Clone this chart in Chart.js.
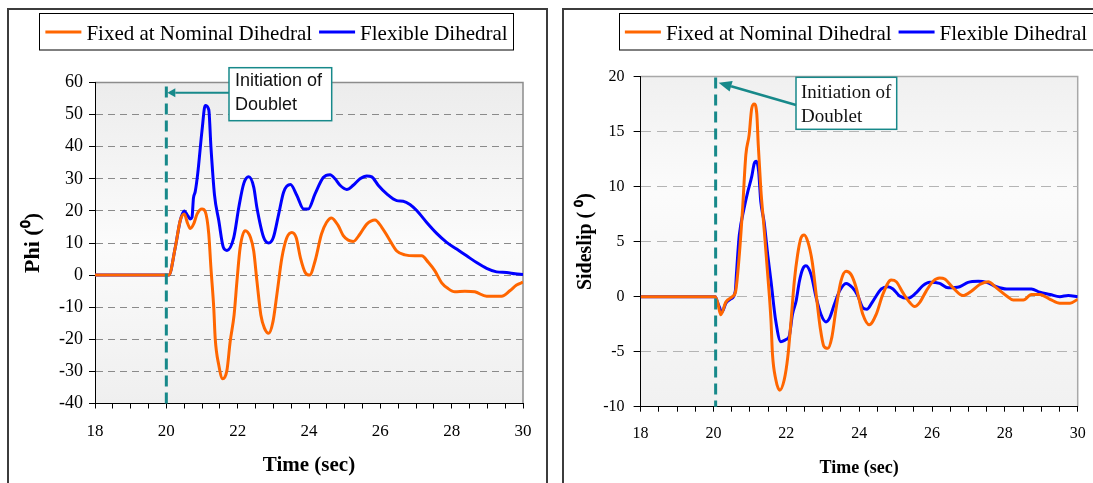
<!DOCTYPE html>
<html>
<head>
<meta charset="utf-8">
<script src="https://cdn.jsdelivr.net/npm/chart.js@4.4.1/dist/chart.umd.min.js"></script>
<style>
html,body{margin:0;padding:0;background:#fff;overflow:hidden;width:1093px;height:483px;}
.frame{position:absolute;box-sizing:border-box;border:2px solid #3c3c3c;}
canvas{position:absolute;top:0;}
</style>
</head>
<body>
<div class="frame" style="left:7px;top:8px;width:541px;height:520px"></div>
<div class="frame" style="left:562px;top:8px;width:600px;height:520px"></div>
<canvas id="phiChart" width="555" height="483" style="left:0"></canvas>
<canvas id="slipChart" width="538" height="483" style="left:555px"></canvas>
<script>
// bank angle response (deg) vs time (s)
const phiFixedT = [18, 20.07, 20.25, 20.39, 20.5, 20.6, 20.67, 20.77, 20.86, 21.0, 21.09, 21.19, 21.25, 21.33, 21.37, 21.47, 21.58, 21.7, 21.79, 21.9, 21.98, 22.07, 22.21, 22.36, 22.45, 22.54, 22.65, 22.75, 22.87, 22.99, 23.1, 23.24, 23.38, 23.52, 23.64, 23.76, 23.9, 24.02, 24.17, 24.35, 24.49, 24.63, 24.82, 24.96, 25.1, 25.24, 25.43, 25.62, 25.85, 26.04, 26.22, 26.46, 26.69, 26.97, 27.16, 27.35, 27.53, 27.72, 27.9, 28.09, 28.37, 28.65, 28.98, 29.4, 29.64, 29.82, 30];
const phiFixedV = [0, 0, 8.6, 17, 19, 16, 14.5, 16, 19, 20.6, 19.8, 12.8, 2.3, -10.3, -19.7, -28, -32.3, -29.6, -20.7, -12.4, -1.9, 8.6, 13.8, 11.7, 7.5, -1.9, -12.4, -16.5, -18.1, -14.5, -6, 5.4, 11.7, 13.3, 11.7, 5.4, 0.7, 0, 4.4, 12.8, 16.4, 17.8, 15.4, 12.3, 10.9, 10.5, 12.8, 15.9, 17.2, 14.9, 11.7, 7.5, 6.3, 6, 6, 3.9, 1.3, -2.4, -4.2, -5.2, -5, -5.2, -6.6, -6.6, -4.8, -3.1, -2.2];
const phiFlexT = [18, 20.07, 20.25, 20.39, 20.5, 20.6, 20.67, 20.72, 20.76, 20.81, 20.88, 21.0, 21.09, 21.19, 21.25, 21.35, 21.47, 21.6, 21.7, 21.89, 22.03, 22.17, 22.31, 22.45, 22.54, 22.73, 22.87, 23.0, 23.15, 23.29, 23.48, 23.66, 23.85, 23.98, 24.17, 24.4, 24.59, 24.73, 24.87, 25.06, 25.24, 25.43, 25.62, 25.76, 25.94, 26.18, 26.46, 26.64, 26.83, 27.02, 27.3, 27.58, 27.86, 28.14, 28.42, 28.7, 28.98, 29.26, 29.54, 29.78, 30];
const phiFlexV = [0, 0, 8.6, 17, 20, 18.5, 17.5, 18, 24, 26, 31.6, 45, 52.8, 51.5, 40, 25, 17, 8.6, 7.7, 11.7, 21, 28.5, 30.6, 27.4, 21, 11.7, 10, 11.7, 19, 25.9, 28.2, 24.8, 20.6, 20.6, 25.3, 30.4, 31.3, 30, 28, 26.7, 28, 30, 30.9, 30.6, 28, 25.3, 23.2, 23, 22, 20.1, 16.4, 13, 10.2, 8.1, 6, 3.9, 2.1, 1, 0.8, 0.4, 0.2];

// sideslip response (deg) vs time (s)
const slipFixedT = [18, 20.05, 20.12, 20.2, 20.34, 20.52, 20.61, 20.71, 20.8, 20.89, 20.98, 21.05, 21.12, 21.19, 21.23, 21.3, 21.39, 21.49, 21.58, 21.62, 21.71, 21.82, 21.94, 22.04, 22.13, 22.22, 22.31, 22.4, 22.49, 22.59, 22.71, 22.82, 22.93, 23.03, 23.14, 23.25, 23.37, 23.5, 23.64, 23.78, 23.92, 24.1, 24.28, 24.47, 24.65, 24.88, 25.02, 25.2, 25.39, 25.52, 25.66, 25.84, 26.03, 26.21, 26.35, 26.58, 26.85, 27.08, 27.31, 27.54, 27.77, 28.05, 28.23, 28.51, 28.73, 28.96, 29.24, 29.51, 29.79, 30];
const slipFixedV = [0, 0, -0.6, -1.65, -0.5, 0, 0.5, 3.8, 8, 12.9, 14.7, 17.1, 17.5, 16.6, 13.8, 9.8, 6.2, 2, -2.2, -5.2, -7.5, -8.5, -7.6, -5.5, -2.2, 1.4, 3.8, 5.3, 5.6, 5, 3.2, 0.2, -2.8, -4.5, -4.7, -3.7, -1, 1.4, 2.3, 2, 0.8, -1.6, -2.56, -1.6, 0.2, 1.5, 1.35, 0.36, -0.54, -0.9, -0.54, 0.5, 1.4, 1.7, 1.6, 0.8, 0.1, 0.5, 1.1, 1.35, 0.8, 0.06, -0.3, -0.3, 0.2, 0.2, -0.24, -0.6, -0.6, -0.24];
const slipFlexT = [18, 20.05, 20.11, 20.17, 20.22, 20.27, 20.34, 20.48, 20.6, 20.63, 20.66, 20.71, 20.84, 20.94, 21.05, 21.12, 21.18, 21.24, 21.3, 21.39, 21.49, 21.58, 21.71, 21.85, 21.99, 22.08, 22.17, 22.27, 22.36, 22.45, 22.54, 22.68, 22.82, 22.95, 23.09, 23.18, 23.32, 23.46, 23.64, 23.82, 23.96, 24.1, 24.21, 24.38, 24.61, 24.79, 24.93, 25.11, 25.34, 25.57, 25.75, 25.94, 26.21, 26.44, 26.76, 26.99, 27.27, 27.5, 27.77, 28.05, 28.41, 28.73, 28.96, 29.24, 29.51, 29.74, 30];
const slipFlexV = [0, 0, -0.5, -1.0, -1.45, -1.2, -0.6, -0.2, 0.5, 2, 3.5, 5.6, 8, 9.5, 10.9, 12.1, 12.3, 11.4, 8.6, 6.8, 3.8, 1.4, -2.2, -4.1, -3.9, -3.6, -1.6, -0.4, 1.4, 2.5, 2.8, 2.0, -0.1, -1.6, -2.3, -2.0, -0.7, 0.5, 1.2, 0.8, 0.1, -1, -1.15, -0.4, 0.7, 0.9, 0.7, 0.06, -0.15, 0.36, 1, 1.3, 1.2, 0.8, 0.9, 1.3, 1.4, 1.3, 0.9, 0.7, 0.7, 0.7, 0.4, 0.2, 0, 0.1, 0];

const seriesNames = ['Fixed at Nominal Dihedral', 'Flexible Dihedral'];
const seriesColors = ['#ff6600', '#0000ff'];
const timeTicks = {min: 18, max: 30, step: 0.5, labelEvery: 2};
const phiTicks = {min: -40, max: 60, step: 10};
const slipTicks = {min: -10, max: 20, step: 5};
const doubletLabel = ['Initiation of', 'Doublet'];

const SERIF = "'Liberation Serif', 'Times New Roman', serif";
const SANS = "'Liberation Sans', Arial, sans-serif";

const toPoints = (t, v) => t.map((x, i) => ({x, y: v[i]}));

// gradient plot area with light grey top/right edges
const plotBg = {
  id: 'plotBg',
  beforeDraw(chart, args, o) {
    const {ctx, chartArea: {left, top, right, bottom}} = chart;
    const g = ctx.createLinearGradient(0, top, 0, bottom);
    o.stops.forEach(([p, c]) => g.addColorStop(p, c));
    ctx.save();
    ctx.fillStyle = g;
    ctx.fillRect(left, top, right - left, bottom - top);
    ctx.strokeStyle = o.edge;
    ctx.lineWidth = 1.5;
    ctx.beginPath();
    ctx.moveTo(left, top); ctx.lineTo(right, top); ctx.lineTo(right, bottom);
    ctx.stroke();
    ctx.restore();
  }
};

// dashed marker at the doublet start, with a boxed callout and arrow
const doubletMark = {
  id: 'doubletMark',
  afterDatasetsDraw(chart, args, o) {
    const {ctx, chartArea: a, scales: {x}} = chart;
    const px = x.getPixelForValue(o.time);
    ctx.save();
    ctx.strokeStyle = o.color;
    ctx.lineWidth = 3;
    ctx.setLineDash([11, 6]);
    ctx.beginPath(); ctx.moveTo(px, a.top + o.lineTop); ctx.lineTo(px, a.bottom); ctx.stroke();
    ctx.setLineDash([]);

    const bx = a.left + o.box.dx, by = a.top + o.box.dy;
    ctx.fillStyle = '#fff';
    ctx.fillRect(bx, by, o.box.w, o.box.h);
    ctx.lineWidth = 1.5;
    ctx.strokeRect(bx, by, o.box.w, o.box.h);
    ctx.fillStyle = '#111';
    ctx.font = o.font;
    ctx.textBaseline = 'alphabetic';
    o.lines.forEach((s, i) => ctx.fillText(s, bx + o.textDx, by + o.baselines[i]));

    const sx = bx, sy = a.top + o.arrow.fromDy;
    const tx = px + o.arrow.tipDx, ty = a.top + o.arrow.toDy;
    const ang = Math.atan2(ty - sy, tx - sx);
    const L = o.arrow.len, W = o.arrow.half;
    const baseX = tx - L * Math.cos(ang), baseY = ty - L * Math.sin(ang);
    ctx.lineWidth = o.arrow.width;
    ctx.beginPath(); ctx.moveTo(sx, sy); ctx.lineTo(baseX, baseY); ctx.stroke();
    ctx.fillStyle = o.color;
    ctx.beginPath();
    ctx.moveTo(tx, ty);
    ctx.lineTo(baseX - W * Math.sin(ang), baseY + W * Math.cos(ang));
    ctx.lineTo(baseX + W * Math.sin(ang), baseY - W * Math.cos(ang));
    ctx.closePath(); ctx.fill();
    ctx.restore();
  }
};

// one-row legend in a thin black box
const boxLegend = {
  id: 'boxLegend',
  afterDraw(chart, args, o) {
    const ctx = chart.ctx;
    ctx.save();
    ctx.font = o.font;
    const items = chart.data.datasets.map(d => ({label: d.label, color: d.borderColor, w: ctx.measureText(d.label).width}));
    const pad = 6, line = 36, gap = 5, sep = 7;
    const width = pad * 2 + items.reduce((s, it) => s + line + gap + it.w, 0) + sep * (items.length - 1);
    let x = o.centerX - width / 2;
    ctx.fillStyle = '#fff';
    ctx.fillRect(x, o.top, width, o.height);
    ctx.strokeStyle = '#000';
    ctx.lineWidth = 1;
    ctx.strokeRect(Math.round(x) + 0.5, o.top + 0.5, Math.round(width), o.height);
    x += pad;
    items.forEach(it => {
      ctx.strokeStyle = it.color;
      ctx.lineWidth = 3;
      ctx.beginPath(); ctx.moveTo(x, o.top + o.lineDy); ctx.lineTo(x + line, o.top + o.lineDy); ctx.stroke();
      x += line + gap;
      ctx.fillStyle = '#000';
      ctx.fillText(it.label, x, o.top + o.textDy);
      x += it.w + sep;
    });
    ctx.restore();
  }
};

function gridColor(lim, color) {
  return c => (c.tick && (c.tick.value === lim.min || c.tick.value === lim.max)) ? 'rgba(0,0,0,0)' : color;
}

function makeChart(id, s) {
  return new Chart(document.getElementById(id), {
    type: 'line',
    data: {
      datasets: [
        {label: seriesNames[0], data: toPoints(s.fixedT, s.fixedV), borderColor: seriesColors[0]},
        {label: seriesNames[1], data: toPoints(s.flexT, s.flexV), borderColor: seriesColors[1]}
      ].map(d => Object.assign(d, {borderWidth: 3, pointRadius: 0, cubicInterpolationMode: 'monotone', fill: false}))
    },
    options: {
      responsive: false,
      animation: false,
      devicePixelRatio: 1,
      layout: {padding: {top: s.area.top, right: s.area.right, left: 0, bottom: 0}},
      scales: {
        x: {
          type: 'linear', min: timeTicks.min, max: timeTicks.max,
          afterFit: sc => { sc.height = s.area.xh; sc.paddingLeft = 0; sc.paddingRight = 0; },
          ticks: {
            stepSize: timeTicks.step, autoSkip: false, maxRotation: 0, color: '#000',
            padding: s.xTickPad, font: {family: SERIF, size: s.xTickSize},
            callback: v => (Number.isInteger(v) && v % timeTicks.labelEvery === 0) ? String(v) : ''
          },
          grid: {drawOnChartArea: false, drawTicks: true, tickLength: 5, tickColor: '#000'},
          border: {color: '#000', width: 1},
          title: {display: true, text: 'Time (sec)', color: '#000', padding: {top: 0, bottom: s.xTitlePad},
            font: {family: SERIF, size: s.xTitleSize, weight: 'bold'}}
        },
        y: {
          min: s.yLim.min, max: s.yLim.max,
          afterFit: sc => { sc.width = s.area.yw; sc.paddingTop = 0; sc.paddingBottom = 0; },
          ticks: {stepSize: s.yLim.step, color: '#000', padding: s.yTickPad, font: {family: SERIF, size: s.yTickSize}},
          grid: {color: gridColor(s.yLim, s.gridColor), tickColor: '#000', tickLength: s.yTickLen, lineWidth: 1},
          border: {color: '#000', width: 1, dash: s.gridDash},
          title: {display: true, text: s.yTitle, color: '#000', padding: {top: s.yTitlePad, bottom: 0},
            font: {family: SERIF, size: s.yTitleSize, weight: 'bold'}}
        }
      },
      plugins: {
        legend: {display: false},
        tooltip: {enabled: false},
        plotBg: {stops: s.bgStops, edge: s.edge},
        doubletMark: Object.assign({color: '#17898a', lines: doubletLabel}, s.mark),
        boxLegend: {font: '21px ' + SERIF, centerX: s.legendX, top: 13, height: 36.5, lineDy: 19, textDy: 27}
      }
    },
    plugins: [plotBg, doubletMark, boxLegend]
  });
}

makeChart('phiChart', {
  fixedT: phiFixedT, fixedV: phiFixedV, flexT: phiFlexT, flexV: phiFlexV,
  yLim: phiTicks, yTitle: 'Phi (\u2070)',
  area: {top: 82.5, right: 32, xh: 79.5, yw: 95},
  xTickPad: 13, xTickSize: 17, xTitlePad: 4.5, xTitleSize: 21,
  yTickPad: 6, yTickSize: 18, yTickLen: 6, yTitlePad: 20, yTitleSize: 22,
  gridColor: '#8a8a8a', gridDash: [7, 5], edge: '#8c8c8c',
  bgStops: [[0, '#ececec'], [0.5, '#fbfbfb'], [1, '#efefef']],
  legendX: 276.5,
  mark: {time: 20, lineTop: 4, font: '18px ' + SANS, textDx: 6, baselines: [18, 42.3],
    box: {dx: 134, dy: -14.8, w: 102.7, h: 53},
    arrow: {fromDy: 10.2, toDy: 10.2, tipDx: 1, len: 8, half: 4.5, width: 2}}
});

makeChart('slipChart', {
  fixedT: slipFixedT, fixedV: slipFixedV, flexT: slipFlexT, flexV: slipFlexV,
  yLim: slipTicks, yTitle: 'Sideslip ( \u2070)',
  area: {top: 76.5, right: 15.3, xh: 76.3, yw: 85.6},
  xTickPad: 12, xTickSize: 16, xTitlePad: 4, xTitleSize: 18,
  yTickPad: 9, yTickSize: 16, yTickLen: 7, yTitlePad: 19, yTitleSize: 20,
  gridColor: '#b4b4b4', gridDash: [10, 6], edge: '#a8a8a8',
  bgStops: [[0, '#f0f0f0'], [0.35, '#fbfbfb'], [1, '#f1f1f1']],
  legendX: 301,
  mark: {time: 20.06, lineTop: 1, font: '19px ' + SERIF, textDx: 5, baselines: [21, 44.4],
    box: {dx: 155.4, dy: 0.8, w: 100.7, h: 52},
    arrow: {fromDy: 28.5, toDy: 6.2, tipDx: 3, len: 13, half: 5.5, width: 2.5}}
});
</script>
</body>
</html>
